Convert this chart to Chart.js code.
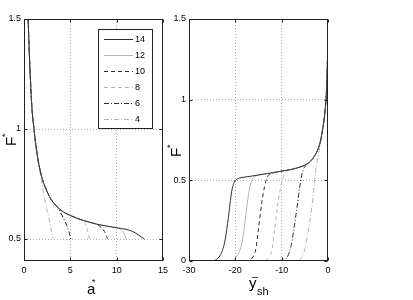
<!DOCTYPE html>
<html>
<head>
<meta charset="utf-8">
<script src="https://cdn.jsdelivr.net/npm/chart.js@4"></script>
<style>
  html, body { margin: 0; padding: 0; background: #fff; }
  #wrap { position: relative; width: 413px; height: 300px; }
  #wrap canvas { position: absolute; left: 0; top: 0; }
</style>
</head>
<body>
<div id="wrap">
  <canvas id="left-chart" width="413" height="300"></canvas>
  <canvas id="right-chart" width="413" height="300"></canvas>
</div>
<script>
// legend entries (same order in both plots)
const seriesNames = ["14", "12", "10", "8", "6", "4"];

// left plot: F* against a*  ([a*, F*] pairs)
const left14 = [[0.45,1.5],[0.55,1.37],[0.7,1.22],[0.85,1.1],[1.08,1.0],[1.3,0.92],[1.6,0.84],[2,0.77],[2.5,0.715],[3,0.675],[3.5,0.65],[4,0.63],[5,0.607],[6,0.59],[7,0.577],[8,0.566],[9,0.558],[10,0.551],[11,0.544],[11.5,0.538],[12,0.528],[12.4,0.517],[12.7,0.508],[13,0.5]];
const left12 = [[0.45,1.5],[0.55,1.37],[0.7,1.22],[0.85,1.1],[1.08,1.0],[1.3,0.92],[1.6,0.84],[2,0.77],[2.5,0.715],[3,0.675],[3.5,0.65],[4,0.63],[5,0.607],[6,0.59],[7,0.577],[8,0.566],[9,0.558],[10,0.551],[10.4,0.544],[10.7,0.532],[10.9,0.515],[11,0.5]];
const left10 = [[0.45,1.5],[0.55,1.37],[0.7,1.22],[0.85,1.1],[1.08,1.0],[1.3,0.92],[1.6,0.84],[2,0.77],[2.5,0.715],[3,0.675],[3.5,0.65],[4,0.63],[5,0.607],[6,0.59],[7,0.577],[7.5,0.571],[8,0.562],[8.4,0.55],[8.7,0.533],[8.9,0.515],[9,0.5]];
const left8 = [[0.45,1.5],[0.55,1.37],[0.7,1.22],[0.85,1.1],[1.08,1.0],[1.3,0.92],[1.6,0.84],[2,0.77],[2.5,0.715],[3,0.675],[3.5,0.65],[4,0.63],[5,0.607],[6,0.59],[6.3,0.583],[6.6,0.57],[6.8,0.548],[6.95,0.522],[7.05,0.5]];
const left6 = [[0.45,1.5],[0.55,1.37],[0.7,1.22],[0.85,1.1],[1.08,1.0],[1.3,0.92],[1.6,0.84],[2,0.77],[2.5,0.715],[3,0.675],[3.5,0.65],[3.8,0.632],[4.2,0.6],[4.6,0.563],[4.85,0.533],[5.05,0.5]];
const left4 = [[0.45,1.5],[0.55,1.37],[0.7,1.22],[0.85,1.1],[1.08,1.0],[1.3,0.92],[1.6,0.84],[1.9,0.76],[2.2,0.69],[2.5,0.63],[2.8,0.57],[3.0,0.53],[3.15,0.5]];

// right plot: F* against y_sh-  ([y, F*] pairs)
const right14 = [[-30,0],[-25,0],[-24.3,0.006],[-23.5,0.025],[-22.8,0.065],[-22.2,0.13],[-21.5,0.27],[-20.8,0.43],[-20.2,0.49],[-19.6,0.508],[-19,0.515],[-17,0.524],[-15,0.533],[-13,0.542],[-11,0.552],[-9,0.562],[-7,0.574],[-5,0.594],[-4,0.613],[-3,0.647],[-2,0.705],[-1.5,0.76],[-1,0.845],[-0.6,0.94],[-0.3,1.07],[-0.15,1.2],[-0.05,1.35],[0,1.5]];
const right12 = [[-30,0],[-21.5,0],[-20.6,0.005],[-19.8,0.025],[-19.1,0.06],[-18.6,0.11],[-18,0.22],[-17.5,0.34],[-16.9,0.455],[-16.3,0.505],[-15.7,0.525],[-15,0.533],[-13,0.542],[-11,0.552],[-9,0.562],[-7,0.574],[-5,0.594],[-4,0.613],[-3,0.647],[-2,0.705],[-1.5,0.76],[-1,0.845],[-0.6,0.94],[-0.3,1.07],[-0.15,1.2],[-0.05,1.35],[0,1.5]];
const right10 = [[-30,0],[-18,0],[-17,0.005],[-16.2,0.025],[-15.6,0.07],[-15,0.2],[-14.3,0.36],[-13.7,0.46],[-13.1,0.52],[-12.4,0.54],[-11,0.552],[-9,0.562],[-7,0.574],[-5,0.594],[-4,0.613],[-3,0.647],[-2,0.705],[-1.5,0.76],[-1,0.845],[-0.6,0.94],[-0.3,1.07],[-0.15,1.2],[-0.05,1.35],[0,1.5]];
const right8 = [[-30,0],[-14.5,0],[-13.5,0.005],[-12.7,0.025],[-12.1,0.07],[-11.5,0.2],[-10.8,0.36],[-10.2,0.46],[-9.6,0.525],[-8.9,0.555],[-7,0.574],[-5,0.594],[-4,0.613],[-3,0.647],[-2,0.705],[-1.5,0.76],[-1,0.845],[-0.6,0.94],[-0.3,1.07],[-0.15,1.2],[-0.05,1.35],[0,1.5]];
const right6 = [[-30,0],[-10.5,0],[-9.5,0.005],[-8.7,0.03],[-8,0.09],[-7.4,0.19],[-6.7,0.33],[-6.1,0.46],[-5.6,0.54],[-5.1,0.58],[-4,0.613],[-3,0.647],[-2,0.705],[-1.5,0.76],[-1,0.845],[-0.6,0.94],[-0.3,1.07],[-0.15,1.2],[-0.05,1.35],[0,1.5]];
const right4 = [[-30,0],[-7,0],[-6.2,0.006],[-5.4,0.035],[-4.8,0.1],[-4.2,0.2],[-3.5,0.33],[-3,0.46],[-2.6,0.57],[-2.2,0.64],[-1.8,0.7],[-1.5,0.76],[-1,0.845],[-0.6,0.94],[-0.3,1.07],[-0.15,1.2],[-0.05,1.35],[0,1.5]];

// axis ranges and tick labels
const leftXTicks = [0, 5, 10, 15];
const leftYTicks = [0.5, 1, 1.5];
const rightXTicks = [-30, -20, -10, 0];
const rightYTicks = [0, 0.5, 1, 1.5];

// styles
const seriesColors = ["#2e2e2e", "#b4b4b4", "#2e2e2e", "#b4b4b4", "#2e2e2e", "#b4b4b4"];
const seriesDashes = [[], [], [4, 3], [4, 3], [5, 2, 1, 2], [5, 2, 1, 2]];
const FONT = "'Liberation Sans', Arial, Helvetica, sans-serif";
const FRAME = "#222";
const GRID = "#b0b0b0";

function makeDatasets(seriesList) {
  return seriesList.map((pts, i) => ({
    label: seriesNames[i],
    data: pts.map(([x, y]) => ({ x, y })),
    borderColor: seriesColors[i],
    borderDash: seriesDashes[i],
    borderWidth: 1,
    pointRadius: 0,
    fill: false,
    showLine: true,
    cubicInterpolationMode: "monotone",
  }));
}

// matlab-like box with inward ticks on all four sides
const framePlugin = {
  id: "frame",
  afterDraw(chart) {
    const { ctx, chartArea: a, scales } = chart;
    const l = Math.round(a.left) + 0.5, r = Math.round(a.right) - 0.5;
    const t = Math.round(a.top) + 0.5, b = Math.round(a.bottom) - 0.5;
    ctx.save();
    ctx.strokeStyle = FRAME;
    ctx.lineWidth = 1;
    ctx.strokeRect(l, t, r - l, b - t);
    ctx.beginPath();
    scales.x.ticks.forEach((tk) => {
      const x = Math.round(scales.x.getPixelForValue(tk.value)) + 0.5;
      ctx.moveTo(x, b); ctx.lineTo(x, b - 3);
      ctx.moveTo(x, t); ctx.lineTo(x, t + 3);
    });
    scales.y.ticks.forEach((tk) => {
      const y = Math.round(scales.y.getPixelForValue(tk.value)) + 0.5;
      ctx.moveTo(l, y); ctx.lineTo(l + 3, y);
      ctx.moveTo(r, y); ctx.lineTo(r - 3, y);
    });
    ctx.stroke();
    ctx.restore();
  },
};

// rotated F* label
function drawYLabel(ctx, x, y) {
  ctx.save();
  ctx.translate(x, y);
  ctx.rotate(-Math.PI / 2);
  ctx.fillStyle = "#000";
  ctx.textBaseline = "alphabetic";
  ctx.font = `15px ${FONT}`;
  ctx.fillText("F", -5, 0);
  ctx.font = `9px ${FONT}`;
  ctx.fillText("*", 4, -8);
  ctx.restore();
}

const leftDecor = {
  id: "leftDecor",
  afterDraw(chart) {
    const ctx = chart.ctx;
    ctx.save();
    // legend box
    ctx.fillStyle = "#fff";
    ctx.fillRect(98.5, 29.5, 54, 99);
    ctx.strokeStyle = FRAME;
    ctx.lineWidth = 1;
    ctx.strokeRect(98.5, 29.5, 54, 99);
    seriesNames.forEach((name, i) => {
      const y = Math.round(39 + i * 16.05) + 0.5;
      ctx.beginPath();
      ctx.setLineDash(seriesDashes[i]);
      ctx.strokeStyle = seriesColors[i];
      ctx.moveTo(104, y);
      ctx.lineTo(133, y);
      ctx.stroke();
      ctx.setLineDash([]);
      ctx.fillStyle = "#000";
      ctx.font = `9px ${FONT}`;
      ctx.textBaseline = "middle";
      ctx.fillText(name, 135, y);
    });
    // axis labels
    ctx.textBaseline = "alphabetic";
    ctx.fillStyle = "#000";
    ctx.font = `15px ${FONT}`;
    ctx.fillText("a", 87, 294);
    ctx.font = `9px ${FONT}`;
    ctx.fillText("*", 92, 285);
    ctx.restore();
    drawYLabel(ctx, 16, 141);
  },
};

const rightDecor = {
  id: "rightDecor",
  afterDraw(chart) {
    const ctx = chart.ctx;
    ctx.save();
    ctx.fillStyle = "#000";
    ctx.textBaseline = "alphabetic";
    ctx.font = `15px ${FONT}`;
    ctx.fillText("y", 249, 288);
    ctx.font = `11px ${FONT}`;
    ctx.fillText("sh", 257, 295);
    ctx.fillText("\u2013", 252, 280);
    ctx.restore();
    drawYLabel(ctx, 181, 152);
  },
};

function buildOptions(box, xMin, xMax, xTicks, yMin, yMax, yTicks) {
  const gridColor = (lo, hi) => (c) =>
    c.tick && c.tick.value > lo && c.tick.value < hi ? GRID : "rgba(0,0,0,0)";
  const tickFont = { family: FONT, size: 9 };
  const plain = (v) => String(v);
  return {
    responsive: false,
    animation: false,
    events: [],
    layout: { padding: { left: 0, right: 413 - box.right, top: box.top, bottom: 0 } },
    plugins: { legend: { display: false }, tooltip: { enabled: false } },
    scales: {
      x: {
        type: "linear",
        min: xMin,
        max: xMax,
        afterBuildTicks: (s) => { s.ticks = xTicks.map((v) => ({ value: v })); },
        afterFit: (s) => { s.height = 300 - box.bottom; },
        grid: { color: gridColor(xMin, xMax), drawTicks: false, lineWidth: 1 },
        border: { display: false, dash: [1, 2] },
        ticks: { font: tickFont, color: "#000", padding: 4, maxRotation: 0, autoSkip: false, callback: plain },
      },
      y: {
        type: "linear",
        min: yMin,
        max: yMax,
        afterBuildTicks: (s) => { s.ticks = yTicks.map((v) => ({ value: v })); },
        afterFit: (s) => { s.width = box.left; },
        grid: { color: gridColor(yMin, yMax), drawTicks: false, lineWidth: 1 },
        border: { display: false, dash: [1, 2] },
        ticks: { font: tickFont, color: "#000", padding: 3, autoSkip: false, callback: plain },
      },
    },
  };
}

new Chart(document.getElementById("left-chart"), {
  type: "scatter",
  data: { datasets: makeDatasets([left14, left12, left10, left8, left6, left4]) },
  options: buildOptions({ left: 24, right: 163, top: 19, bottom: 261 }, 0, 15, leftXTicks, 0.4, 1.5, leftYTicks),
  plugins: [framePlugin, leftDecor],
});

new Chart(document.getElementById("right-chart"), {
  type: "scatter",
  data: { datasets: makeDatasets([right14, right12, right10, right8, right6, right4]) },
  options: buildOptions({ left: 189, right: 328, top: 19, bottom: 261 }, -30, 0, rightXTicks, 0, 1.5, rightYTicks),
  plugins: [framePlugin, rightDecor],
});
</script>
</body>
</html>
